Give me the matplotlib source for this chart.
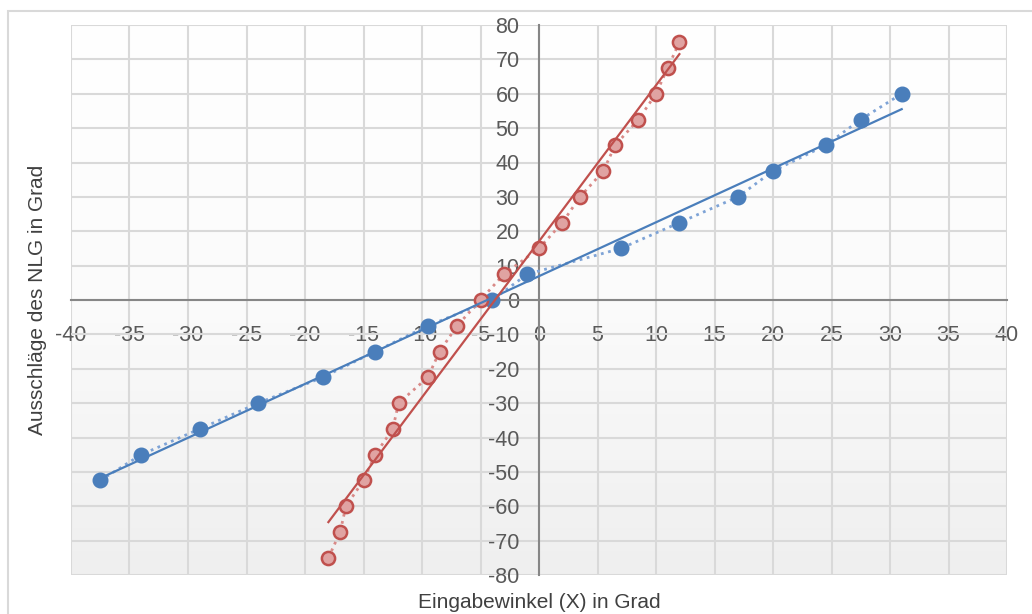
import numpy as np
import matplotlib.pyplot as plt
from matplotlib.colors import LinearSegmentedColormap
from matplotlib.patches import Rectangle

plt.rcParams['font.family'] = ['Liberation Sans', 'DejaVu Sans']

# Messwerte Serie 1 (blau)
x_blau = [-37.5, -34, -29, -24, -18.5, -14, -9.5, -4, -1, 7, 12, 17, 20, 24.5, 27.5, 31]
y_blau = [-52.5, -45, -37.5, -30, -22.5, -15, -7.5, 0, 7.5, 15, 22.5, 30, 37.5, 45, 52.5, 60]

# Messwerte Serie 2 (rot)
x_rot = [-18, -17, -16.5, -15, -14, -12.5, -12, -9.5, -8.5, -7, -5, -3, 0, 2, 3.5,
         5.5, 6.5, 8.5, 10, 11, 12]
y_rot = [-75, -67.5, -60, -52.5, -45, -37.5, -30, -22.5, -15, -7.5, 0, 7.5, 15, 22.5, 30,
         37.5, 45, 52.5, 60, 67.5, 75]

x_ticks = np.arange(-40, 41, 5)
y_ticks = np.arange(-80, 81, 10)

fig = plt.figure(figsize=(10.32, 6.14), dpi=100)
ax = fig.add_axes([71/1032, 1 - 575/614, 936/1032, 550/614])

# Rahmen des Diagramms
fig.patches.append(Rectangle((8/1032, -0.1), 1.2, 1 - 11/614 + 0.1, transform=fig.transFigure,
                             fill=False, edgecolor='#d9d9d9', linewidth=1.5))

# Hintergrund mit Verlauf (oben weiss, unten hellgrau)
cmap = LinearSegmentedColormap.from_list('bg', ['#ffffff', '#fbfbfb', '#efefef'])
grad = np.linspace(0, 1, 256).reshape(-1, 1)
ax.imshow(grad, extent=(-40, 40, -80, 80), origin='upper', cmap=cmap, aspect='auto', zorder=0)

ax.set_xlim(-40, 40)
ax.set_ylim(-80, 80)
ax.set_xticks(x_ticks)
ax.set_yticks(y_ticks)
ax.grid(True, color='#d9d9d9', linewidth=1.5, zorder=1)
ax.set_axisbelow(True)

for s in ['top', 'right']:
    ax.spines[s].set_visible(False)
ax.spines['left'].set_position('zero')
ax.spines['bottom'].set_position('zero')
for s in ['left', 'bottom']:
    ax.spines[s].set_color('#868686')
    ax.spines[s].set_linewidth(1.5)
    ax.spines[s].set_zorder(2)
ax.tick_params(length=0, labelsize=15.5, labelcolor='#595959')
ax.tick_params(axis='x', pad=18)
ax.tick_params(axis='y', pad=14)
ax.set_xticklabels([str(t) for t in x_ticks])
ax.set_yticklabels([str(t) for t in y_ticks])

# Messpunkte mit gepunkteter Verbindung
ax.plot(x_blau, y_blau, linestyle=':', color='#7ea3d6', linewidth=2,
        marker='o', markersize=10.5, markerfacecolor='#4a7ebb', markeredgecolor='#4a7ebb', zorder=3)
ax.plot(x_rot, y_rot, linestyle=':', color='#d98a88', linewidth=2,
        marker='o', markersize=9.5, markerfacecolor='#e0a3a2', markeredgecolor='#c0504d',
        markeredgewidth=1.8, zorder=3)

# Lineare Trendlinien
for xs, ys, col in [(x_blau, y_blau, '#4a7ebb'), (x_rot, y_rot, '#c0504d')]:
    k, n = np.polyfit(xs, ys, 1)
    xx = np.array([min(xs), max(xs)])
    ax.plot(xx, k * xx + n, color=col, linewidth=1.6, zorder=4)

fig.text(539/1032, 1 - 603/614, 'Eingabewinkel (X) in Grad', ha='center', va='center',
         fontsize=15, color='#404040')
fig.text(38/1032, 1 - 300/614, 'Ausschläge des NLG in Grad', ha='center', va='center',
         rotation=90, fontsize=15, color='#404040')

fig.savefig('out.png', dpi=100)
